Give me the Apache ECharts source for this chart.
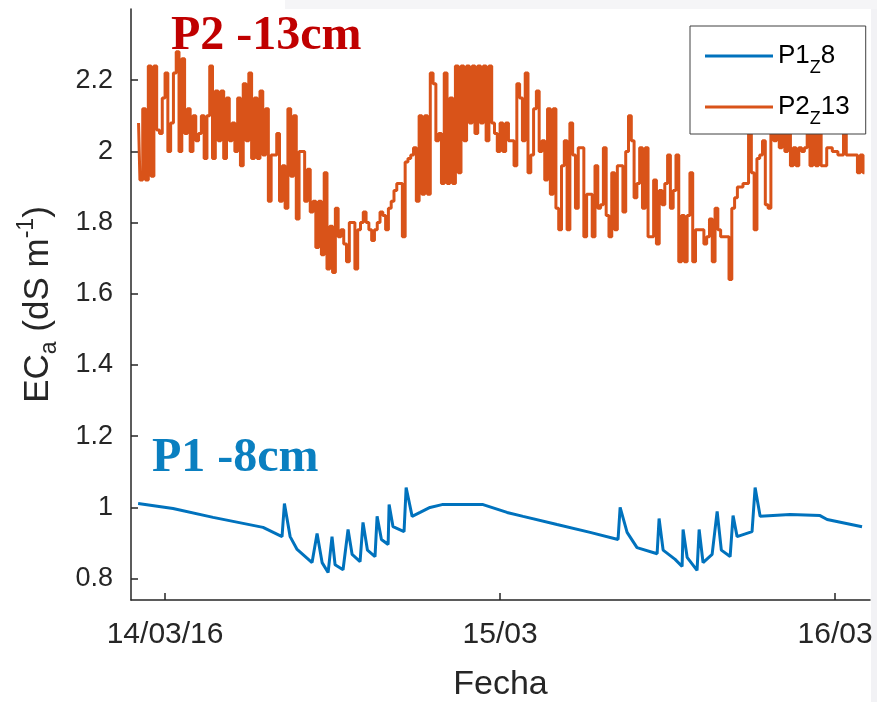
<!DOCTYPE html>
<html>
<head>
<meta charset="utf-8">
<title>ECa P1 / P2</title>
<script src="https://cdn.jsdelivr.net/npm/echarts@6/dist/echarts.min.js"></script>
<style>
  html, body { margin: 0; padding: 0; background: #fff; }
  #chart { width: 877px; height: 702px; }
</style>
</head>
<body>
<div id="chart"></div>
<script>
// eje x en horas desde 14/03/16 00:00
var xTickHours = [0, 24, 48];
var xTickLabels = ['14/03/16', '15/03', '16/03'];
var yTicks = [0.8, 1, 1.2, 1.4, 1.6, 1.8, 2, 2.2];

// P1, z = 8 cm
var p1Hours = [-1.93, 0.57, 3.44, 7.02, 8.38, 8.55, 8.96, 9.46, 10.53, 10.89,
  11.25, 11.68, 11.96, 12.18, 12.75, 13.11, 13.40, 13.97, 14.18, 14.5,
  15.04, 15.19, 15.5, 15.98, 16.05, 16.33, 17.12, 17.27, 17.70, 18.27,
  18.98, 19.84, 22.78, 24.50, 25.65, 28.08, 30.45, 32.45, 32.6, 33.10,
  33.81, 35.25, 35.39, 35.68, 36.54, 37.04, 37.11, 37.4, 38.11, 38.26,
  38.54, 39.19, 39.55, 39.85, 40.48, 40.69, 40.98, 42.05, 42.27, 42.63,
  44.78, 46.92, 47.43, 49.93];
var p1Values = [1.011, 0.997, 0.972, 0.944, 0.918, 1.011, 0.918, 0.882, 0.845, 0.927,
  0.845, 0.817, 0.918, 0.839, 0.825, 0.938, 0.868, 0.848, 0.958, 0.88,
  0.862, 0.975, 0.91, 0.896, 1.008, 0.946, 0.932, 1.056, 0.975, 0.986,
  1.0, 1.008, 1.008, 0.986, 0.975, 0.952, 0.930, 0.910, 1.0, 0.93,
  0.887, 0.870, 0.969, 0.88, 0.854, 0.834, 0.938, 0.86, 0.823, 0.938,
  0.845, 0.868, 0.989, 0.88, 0.862, 0.977, 0.918, 0.932, 1.056, 0.975,
  0.980, 0.977, 0.966, 0.946];

// P2, z = 13 cm, una lectura cada 0.2 h
var p2Start = -1.9;
var p2Step = 0.2;
var p2Values = [
  2.08, 1.92, 2.12, 1.92, 2.24, 1.93, 2.24, 2.06, 2.05, 2.15,
  2.22, 2.00, 2.08, 2.22, 2.28, 2.00, 2.26, 2.05, 2.12, 2.00,
  2.10, 2.03, 2.05, 2.10, 1.98, 2.10, 2.24, 1.98, 2.17, 2.03,
  2.17, 1.98, 2.15, 2.03, 2.08, 2.00, 2.15, 1.96, 2.19, 2.03,
  2.22, 1.98, 2.15, 1.98, 2.17, 1.99, 2.12, 1.86, 1.99, 1.99,
  2.05, 1.86, 1.96, 1.84, 2.12, 1.93, 2.10, 1.81, 2.00, 2.00,
  1.86, 1.95, 1.83, 1.86, 1.73, 1.86, 1.71, 1.94, 1.67, 1.79,
  1.66, 1.84, 1.76, 1.78, 1.74, 1.69, 1.80, 1.80, 1.67, 1.78,
  1.80, 1.83, 1.80, 1.78, 1.75, 1.78, 1.80, 1.83, 1.82, 1.78,
  1.84, 1.86, 1.89, 1.91, 1.91, 1.76, 1.97, 1.98, 1.99, 2.01,
  1.86, 2.10, 1.88, 2.10, 1.88, 2.22, 2.19, 2.03, 2.05, 1.91,
  2.22, 1.91, 2.15, 1.91, 2.24, 1.94, 2.24, 2.03, 2.24, 2.08,
  2.24, 2.05, 2.24, 2.08, 2.24, 2.03, 2.24, 2.08, 2.05, 2.00,
  2.08, 2.00, 2.08, 2.03, 2.03, 1.96, 2.19, 2.15, 2.03, 2.22,
  1.94, 1.99, 2.12, 2.17, 2.00, 2.03, 1.92, 2.12, 1.88, 2.12,
  1.84, 1.78, 1.96, 2.03, 1.78, 2.08, 1.99, 1.84, 2.01, 2.01,
  1.76, 1.88, 1.88, 1.76, 1.96, 1.84, 1.85, 2.01, 1.82, 1.76,
  1.94, 1.78, 1.96, 1.96, 1.83, 2.00, 2.10, 2.03, 1.87, 1.91,
  2.01, 1.84, 2.01, 1.76, 1.76, 1.92, 1.74, 1.89, 1.85, 1.91,
  1.99, 1.84, 1.89, 1.99, 1.69, 1.82, 1.69, 1.82, 1.94, 1.69,
  1.78, 1.78, 1.78, 1.74, 1.76, 1.81, 1.69, 1.84, 1.78, 1.76,
  1.76, 1.76, 1.64, 1.84, 1.87, 1.90, 1.90, 1.91, 1.91, 2.10,
  1.94, 1.78, 1.98, 1.99, 2.03, 1.85, 1.84, 2.10, 2.03, 2.08,
  2.01, 2.08, 2.00, 2.08, 1.96, 2.01, 1.96, 2.01, 2.00, 2.01,
  2.08, 1.96, 2.08, 1.96, 2.08, 1.96, 1.96, 2.01, 2.01, 2.00,
  2.00, 1.99, 1.99, 2.08, 1.99, 1.99, 1.99, 1.99, 1.94, 1.99,
  1.94
];

var p1Data = p1Hours.map(function (h, i) { return [h, p1Values[i]]; });
var p2Data = p2Values.map(function (v, i) { return [p2Start + i * p2Step, v]; });

var chart = echarts.init(document.getElementById('chart'));
chart.setOption({
  animation: false,
  backgroundColor: '#fff',
  grid: { left: 131, right: 7, top: 9, bottom: 102, outerBoundsMode: 'none' },
  legend: {
    orient: 'vertical',
    left: 690,
    top: 26,
    padding: [12, 16, 6, 15],
    itemGap: 12,
    icon: 'rect',
    itemWidth: 68,
    itemHeight: 3,
    itemTextGap: 8,
    borderColor: '#404040',
    borderWidth: 1,
    backgroundColor: '#fff',
    formatter: function (name) {
      var parts = name.split('_Z');
      return '{n|' + parts[0] + '}{s|Z}{n|' + parts[1] + '}';
    },
    textStyle: {
      rich: {
        n: { fontSize: 26, lineHeight: 36, color: '#000', fontFamily: 'Liberation Sans' },
        s: { fontSize: 18, lineHeight: 18, verticalAlign: 'top', padding: [21, 0, 0, 0],
          color: '#000', fontFamily: 'Liberation Sans' }
      }
    }
  },
  xAxis: {
    type: 'value',
    min: -2.44,
    max: 50.5,
    name: 'Fecha',
    nameLocation: 'middle',
    nameGap: 68,
    nameTextStyle: { fontSize: 34, color: '#262626', fontFamily: 'Liberation Sans' },
    axisLine: { show: true, onZero: false, lineStyle: { color: '#262626', width: 1.5 } },
    axisTick: { show: true, inside: true, length: 7, customValues: xTickHours,
      lineStyle: { color: '#262626', width: 1.5 } },
    axisLabel: {
      customValues: xTickHours,
      margin: 20,
      fontSize: 30,
      color: '#262626',
      fontFamily: 'Liberation Sans',
      formatter: function (v) { return xTickLabels[xTickHours.indexOf(v)]; }
    },
    splitLine: { show: false }
  },
  yAxis: {
    type: 'value',
    min: 0.74,
    max: 2.4,
    name: '{b|EC}{sub|a}{b| (dS m}{sup|-1}{b|)}',
    nameLocation: 'middle',
    nameGap: 70,
    nameTextStyle: {
      rich: {
        b: { fontSize: 35, lineHeight: 46, color: '#262626', fontFamily: 'Liberation Sans' },
        sub: { fontSize: 23, lineHeight: 23, verticalAlign: 'bottom', color: '#262626', fontFamily: 'Liberation Sans' },
        sup: { fontSize: 23, lineHeight: 23, verticalAlign: 'top', color: '#262626', fontFamily: 'Liberation Sans' }
      }
    },
    axisLine: { show: true, onZero: false, lineStyle: { color: '#262626', width: 1.5 } },
    axisTick: { show: true, inside: true, length: 7, customValues: yTicks,
      lineStyle: { color: '#262626', width: 1.5 } },
    axisLabel: { customValues: yTicks, margin: 18, fontSize: 27, color: '#262626',
      fontFamily: 'Liberation Sans' },
    splitLine: { show: false }
  },
  graphic: [
    // franjas grises del recorte original
    { type: 'rect', z: -10, shape: { x: 871, y: 0, width: 6, height: 702 },
      style: { fill: '#f2f2f5' } },
    { type: 'rect', z: -10, shape: { x: 285, y: 0, width: 592, height: 9 },
      style: { fill: '#f5f5f7' } },
    { type: 'text', left: 171, top: 13,
      style: { text: 'P2 -13cm', font: 'bold 48px "Liberation Serif"', fill: '#c00000' } },
    { type: 'text', left: 152, top: 435,
      style: { text: 'P1 -8cm', font: 'bold 48px "Liberation Serif"', fill: '#0a7fc0' } }
  ],
  series: [
    {
      name: 'P1_Z8',
      type: 'line',
      data: p1Data,
      symbol: 'none',
      color: '#0072bd',
      lineStyle: { width: 3, color: '#0072bd' }
    },
    {
      name: 'P2_Z13',
      type: 'line',
      data: p2Data,
      step: 'middle',
      symbol: 'none',
      color: '#d95319',
      lineStyle: { width: 3, color: '#d95319' }
    }
  ]
});
</script>
</body>
</html>
